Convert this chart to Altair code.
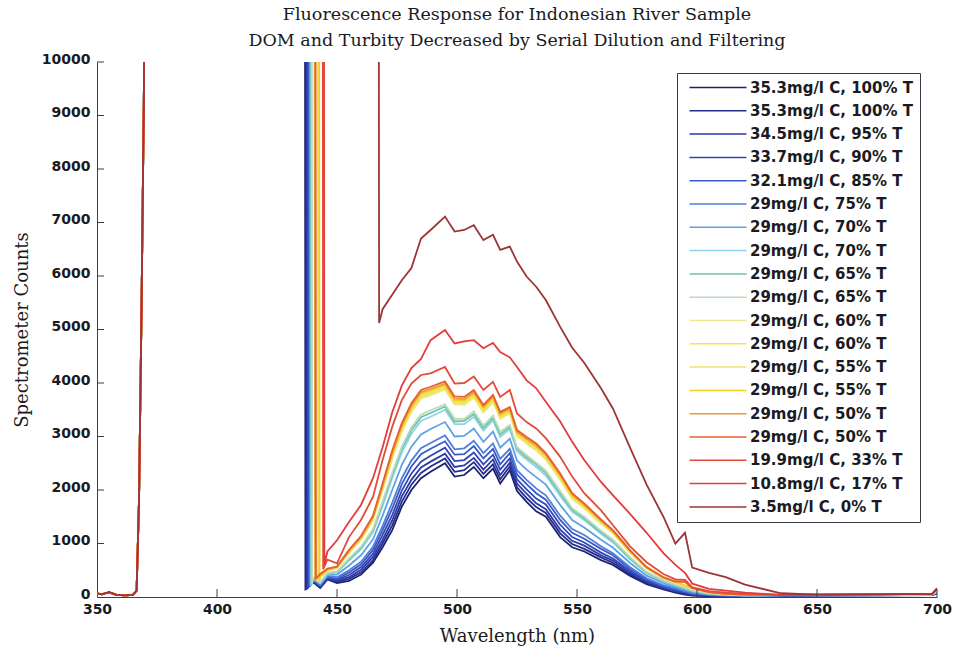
import json
import altair as alt
import pandas as pd

# Emission wavelengths (nm) shared by every spectrum after the excitation band
WAVE_GRID = [440, 443, 446, 450, 455, 460, 465, 469, 473, 477, 481, 485, 489, 495,
             499, 503, 507, 511, 515, 518, 522, 525, 529, 533, 537, 543, 548, 553,
             560, 565, 572, 579, 586, 591, 595, 598, 605, 612, 620, 635, 650, 675,
             698, 700]

# Excitation edge, identical for all runs, then detector saturation
EXC_NM = [350, 352, 355, 358, 362, 365, 366.5, 367.5, 368.5, 369.5, 370.5]
EXC_COUNTS = [70, 50, 90, 40, 30, 40, 120, 1800, 5200, 9200, 16000]
SATURATION = 16000

LABELS = [
    "35.3mg/l C, 100% T", "35.3mg/l C, 100% T", "34.5mg/l C, 95% T",
    "33.7mg/l C, 90% T", "32.1mg/l C, 85% T", "29mg/l C, 75% T",
    "29mg/l C, 70% T", "29mg/l C, 70% T", "29mg/l C, 65% T",
    "29mg/l C, 65% T", "29mg/l C, 60% T", "29mg/l C, 60% T",
    "29mg/l C, 55% T", "29mg/l C, 55% T", "29mg/l C, 50% T",
    "29mg/l C, 50% T", "19.9mg/l C, 33% T", "10.8mg/l C, 17% T",
    "3.5mg/l C, 0% T",
]

COLORS = [
    "#1c2370", "#232f8c", "#2e3aa6", "#3346b8", "#3a58c8", "#4f7fdc",
    "#5fa2e4", "#8fd3ea", "#6cc3a0", "#b9dcc0", "#ece98a", "#f2e64a",
    "#f3e06a", "#f0d020", "#eb9a38", "#e8602e", "#e44a3a", "#e33c3c",
    "#9c3636",
]

# Wavelength where each run leaves saturation, and the count it falls to
DROP_NM = [436.6, 437.0, 437.4, 437.8, 438.2, 438.5, 438.8, 439.0, 439.2, 439.4,
           441.9, 442.1, 442.3, 442.5, 440.6, 441.0, 444.0, 444.5, 467.3]
DROP_FLOOR = [150, 160, 170, 180, 190, 200, 210, 220, 230, 240,
              300, 300, 310, 320, 330, 350, 520, 600, 5120]

S01 = [280, 170, 330, 260, 300, 420, 640, 930, 1250, 1690, 2000, 2220, 2340, 2500,
       2250, 2280, 2430, 2220, 2400, 2120, 2370, 1980, 1780, 1600, 1500, 1120, 930, 850,
       690, 600, 400, 240, 140, 80, 45, 25, 15, 15, 20, 25, 30, 30, 35, 70]
S02 = [290, 180, 340, 280, 340, 460, 690, 1000, 1340, 1780, 2100, 2320, 2440, 2590,
       2340, 2370, 2520, 2300, 2480, 2200, 2440, 2050, 1850, 1680, 1570, 1190, 990, 900,
       740, 640, 430, 260, 150, 95, 55, 35, 20, 15, 20, 25, 30, 30, 35, 70]
S03 = [300, 190, 350, 300, 370, 510, 750, 1070, 1430, 1880, 2190, 2420, 2530, 2680,
       2430, 2460, 2600, 2380, 2570, 2280, 2510, 2120, 1930, 1750, 1640, 1260, 1050, 960,
       780, 680, 460, 280, 170, 110, 70, 45, 25, 20, 20, 25, 30, 35, 40, 80]
S04 = [310, 200, 360, 320, 410, 560, 810, 1160, 1530, 1990, 2310, 2530, 2640, 2790,
       2540, 2560, 2700, 2480, 2660, 2380, 2590, 2200, 2010, 1840, 1730, 1350, 1120, 1020,
       830, 720, 490, 300, 180, 125, 80, 55, 30, 20, 25, 30, 30, 35, 40, 80]
S05 = [320, 210, 370, 340, 460, 610, 880, 1250, 1650, 2110, 2440, 2670, 2770, 2910,
       2660, 2670, 2820, 2590, 2770, 2480, 2690, 2290, 2110, 1940, 1820, 1440, 1200, 1090,
       900, 780, 530, 330, 200, 140, 95, 65, 35, 25, 25, 30, 35, 35, 40, 90]
S06 = [330, 230, 390, 370, 500, 660, 940, 1330, 1760, 2220, 2550, 2780, 2880, 3020,
       2760, 2780, 2920, 2690, 2870, 2580, 2770, 2370, 2190, 2030, 1900, 1520, 1270, 1160,
       950, 820, 560, 350, 220, 160, 110, 75, 40, 30, 25, 30, 35, 35, 45, 90]
S07 = [340, 250, 410, 420, 590, 780, 1080, 1520, 2000, 2470, 2810, 3040, 3140, 3270,
       3000, 3010, 3150, 2900, 3090, 2790, 2960, 2550, 2380, 2240, 2100, 1720, 1440, 1300,
       1070, 920, 640, 400, 260, 190, 130, 95, 50, 35, 25, 30, 35, 40, 45, 100]
S08 = [350, 260, 430, 460, 680, 890, 1210, 1700, 2220, 2700, 3050, 3290, 3370, 3500,
       3230, 3230, 3370, 3110, 3300, 2990, 3140, 2720, 2570, 2430, 2270, 1890, 1590, 1440,
       1180, 1020, 710, 450, 290, 220, 160, 115, 60, 40, 30, 35, 35, 40, 50, 100]
S09 = [360, 270, 440, 470, 700, 920, 1250, 1750, 2280, 2770, 3120, 3360, 3440, 3560,
       3280, 3290, 3420, 3160, 3350, 3040, 3180, 2770, 2610, 2480, 2320, 1940, 1630, 1470,
       1210, 1050, 730, 460, 300, 230, 170, 120, 65, 40, 30, 35, 40, 40, 50, 110]
S10 = [370, 270, 450, 480, 720, 940, 1270, 1790, 2320, 2810, 3170, 3410, 3490, 3600,
       3330, 3330, 3470, 3210, 3390, 3090, 3220, 2800, 2650, 2510, 2360, 1980, 1660, 1500,
       1240, 1070, 750, 470, 310, 235, 175, 125, 70, 45, 30, 35, 40, 40, 50, 110]
S11 = [None, 380, 480, 540, 820, 1070, 1430, 2000, 2590, 3090, 3460, 3710, 3770, 3880,
       3600, 3590, 3730, 3450, 3640, 3330, 3430, 3010, 2870, 2740, 2570, 2190, 1840, 1660,
       1370, 1190, 830, 530, 350, 270, 200, 150, 85, 55, 40, 35, 40, 45, 55, 120]
S12 = [None, 380, 490, 550, 830, 1080, 1450, 2020, 2610, 3120, 3480, 3730, 3800, 3900,
       3620, 3620, 3750, 3470, 3660, 3350, 3450, 3020, 2890, 2760, 2590, 2210, 1850, 1670,
       1390, 1200, 840, 540, 350, 275, 205, 155, 85, 55, 40, 35, 40, 45, 55, 130]
S13 = [None, 390, 500, 550, 840, 1090, 1460, 2040, 2640, 3150, 3510, 3760, 3830, 3930,
       3650, 3650, 3780, 3500, 3690, 3370, 3470, 3050, 2910, 2790, 2610, 2230, 1870, 1690,
       1400, 1210, 850, 540, 360, 280, 210, 160, 85, 55, 40, 35, 40, 45, 55, 130]
S14 = [None, 400, 510, 560, 850, 1110, 1480, 2070, 2670, 3180, 3550, 3800, 3860, 3960,
       3680, 3670, 3810, 3530, 3720, 3400, 3500, 3070, 2940, 2810, 2640, 2260, 1900, 1710,
       1420, 1220, 860, 550, 360, 285, 215, 165, 90, 60, 40, 40, 45, 45, 60, 140]
S15 = [None, 420, 520, 560, 870, 1120, 1500, 2090, 2700, 3210, 3580, 3830, 3890, 3990,
       3710, 3700, 3830, 3560, 3750, 3430, 3520, 3090, 2960, 2840, 2660, 2280, 1920, 1730,
       1430, 1230, 870, 550, 360, 290, 280, 170, 90, 60, 40, 40, 45, 50, 60, 140]
S16 = [None, 430, 530, 570, 880, 1140, 1520, 2120, 2740, 3250, 3620, 3870, 3930, 4030,
       3750, 3740, 3870, 3590, 3780, 3460, 3550, 3120, 2990, 2870, 2690, 2310, 1940, 1750,
       1450, 1250, 880, 560, 370, 290, 290, 170, 90, 60, 45, 40, 45, 50, 60, 150]
S17 = [None, None, 700, 630, 1120, 1440, 1870, 2560, 3180, 3680, 3990, 4150, 4180, 4300,
       3990, 4000, 4120, 3870, 4020, 3740, 3870, 3430, 3270, 3150, 2970, 2620, 2250, 1940,
       1620, 1340, 950, 650, 430, 330, 320, 180, 110, 80, 60, 40, 45, 50, 60, 150]
S18 = [None, None, 850, 1060, 1400, 1720, 2220, 2800, 3450, 3950, 4280, 4450, 4800, 4990,
       4740, 4780, 4800, 4650, 4750, 4580, 4480, 4300, 4050, 3900, 3650, 3280, 2900, 2560,
       2150, 1900, 1560, 1200, 820, 600, 450, 250, 150, 120, 80, 40, 45, 50, 60, 160]
S19 = [None, None, None, None, None, None, None, 5380, 5650, 5920, 6150, 6700, 6860, 7110,
       6830, 6860, 6950, 6670, 6770, 6490, 6550, 6270, 5990, 5800, 5550, 5050, 4660, 4380,
       3900, 3520, 2800, 2100, 1500, 1000, 1200, 550, 450, 370, 230, 70, 45, 50, 60, 160]

SERIES = [S01, S02, S03, S04, S05, S06, S07, S08, S09, S10,
          S11, S12, S13, S14, S15, S16, S17, S18, S19]

X_TICKS = [350, 400, 450, 500, 550, 600, 650, 700]
Y_TICKS = list(range(0, 10001, 1000))

KEYS = [f"{i:02d}" for i in range(len(LABELS))]

rows = []
for key, values, drop, floor in zip(KEYS, SERIES, DROP_NM, DROP_FLOOR):
    pts = list(zip(EXC_NM, EXC_COUNTS))
    pts.append((drop, SATURATION))
    floor_nm = drop + 0.25
    pts.append((floor_nm, floor))
    pts += [(w, v) for w, v in zip(WAVE_GRID, values) if v is not None and w > floor_nm]
    for order, (w, v) in enumerate(pts):
        rows.append({"series": key, "nm": w, "counts": v, "order": order})
spectra = pd.DataFrame(rows)

SANS = "DejaVu Sans"
SERIF = "DejaVu Serif"
INK = "#1a1a22"
AXIS_GREY = "#3c3c46"

label_expr = json.dumps(LABELS) + "[toNumber(datum.value)]"

x_enc = alt.X(
    "nm:Q",
    scale=alt.Scale(domain=[350, 700], nice=False, zero=False),
    axis=alt.Axis(
        values=X_TICKS, ticks=False, grid=False, labelFlush=False, format="d",
        labelFont=SANS, labelFontWeight="bold", labelFontSize=14, labelColor=INK,
        labelPadding=5, domainColor=AXIS_GREY,
        title="Wavelength (nm)", titleFont=SERIF, titleFontWeight="normal",
        titleFontSize=18, titleColor=INK, titleY=44, titleBaseline="alphabetic",
    ),
)
y_enc = alt.Y(
    "counts:Q",
    scale=alt.Scale(domain=[0, 10000], nice=False),
    axis=alt.Axis(
        values=Y_TICKS, ticks=False, grid=False, labelOverlap=False, format="d",
        labelFont=SANS, labelFontWeight="bold", labelFontSize=14, labelColor=INK,
        labelPadding=7, labelOffset=-3, domainColor=AXIS_GREY,
        title="Spectrometer Counts", titleFont=SERIF, titleFontWeight="normal",
        titleFontSize=18, titleColor=INK, titleX=-70, titleY=267.5,
        titleAlign="center", titleBaseline="alphabetic", titleAngle=-90,
    ),
)

lines = alt.Chart(spectra).mark_line(strokeWidth=1.8, clip=True).encode(
    x=x_enc,
    y=y_enc,
    order="order:Q",
    color=alt.Color(
        "series:N",
        scale=alt.Scale(domain=KEYS, range=COLORS),
        legend=alt.Legend(
            title=None, orient="none", legendX=580, legendY=11,
            labelExpr=label_expr, labelFont=SANS, labelFontWeight="bold",
            labelFontSize=15, labelColor=INK, labelLimit=400, labelOffset=48,
            symbolType="M-1,0H10.4", symbolSize=100, symbolStrokeWidth=1.5,
            symbolOffset=3, rowPadding=7.3, padding=7,
            strokeColor="#3a3a44", fillColor="white",
        ),
    ),
)

x_ticks = alt.Chart(pd.DataFrame({"nm": X_TICKS[1:]})).mark_rule(
    color=AXIS_GREY, strokeWidth=1
).encode(x=alt.X("nm:Q", title="Wavelength (nm)"), y=alt.value(527), y2=alt.value(535))

y_ticks = alt.Chart(pd.DataFrame({"counts": Y_TICKS[1:]})).mark_rule(
    color=AXIS_GREY, strokeWidth=1
).encode(y=alt.Y("counts:Q", title="Spectrometer Counts"), x=alt.value(0), x2=alt.value(7))

chart = alt.layer(lines, x_ticks, y_ticks).properties(
    width=840,
    height=535,
    autosize=alt.AutoSizeParams(type="none"),
    padding={"left": 97, "top": 62, "right": 20, "bottom": 54},
    background="white",
    title=alt.TitleParams(
        text=["Fluorescence Response for Indonesian River Sample",
              "DOM and Turbity Decreased by Serial Dilution and Filtering"],
        font=SERIF, fontSize=17.5, fontWeight="normal", color=INK,
        lineHeight=26, offset=3, anchor="middle", frame="group",
    ),
).configure_view(stroke=None)

chart.save("out.html", embed_options={"renderer": "svg", "actions": False})
